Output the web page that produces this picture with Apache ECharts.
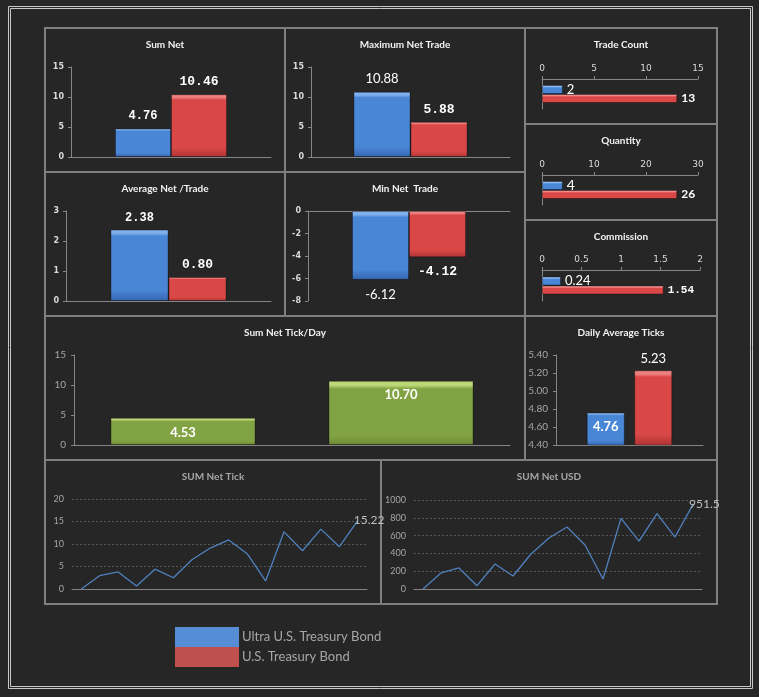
<!DOCTYPE html>
<html lang="en">
<head>
<meta charset="UTF-8">
<title>Trade Dashboard</title>
<script src="https://cdn.jsdelivr.net/npm/echarts@6/dist/echarts.min.js"></script>
<style>
  html, body { margin: 0; padding: 0; background: #262626; }
  #main { width: 759px; height: 697px; }
</style>
</head>
<body>
<div id="main"></div>
<script>
// ---- data ----
const seriesNames = ['Ultra U.S. Treasury Bond', 'U.S. Treasury Bond'];
const totalCat = ['Total'];
const sumNet = [4.76, 10.46];
const maxNetTrade = [10.88, 5.88];
const avgNetTrade = [2.38, 0.80];
const minNetTrade = [-6.12, -4.12];
const tradeCount = [2, 13];
const quantity = [4, 26];
const commission = [0.24, 1.54];
const dailyAvgTicks = [4.76, 5.23];
const tickDayCats = ['Ultra U.S. Treasury Bond', 'U.S. Treasury Bond'];
const sumNetTickDay = [4.53, 10.70];
const days = ['1', '2', '3', '4', '5', '6', '7', '8', '9', '10', '11', '12', '13', '14', '15', '16'];
const sumNetTick = [0, 2.96, 3.8, 0.67, 4.4, 2.5, 6.5, 9.1, 10.9, 7.85, 1.8, 12.7, 8.5, 13.3, 9.4, 15.22];
const sumNetUsd = [0, 180, 236, 37, 281, 146, 393, 573, 697, 494, 112, 794, 539, 846, 584, 951.5];

// ---- layout ----
const panels = [
  [45, 28, 240, 144], [285, 28, 240, 144],
  [525, 28, 192, 96], [525, 124, 192, 96], [525, 220, 192, 96],
  [45, 172, 240, 144], [285, 172, 240, 144],
  [45, 316, 480, 144], [525, 316, 192, 144],
  [45, 460, 336, 144], [381, 460, 336, 144]
];
const titles = [
  ['Sum Net', 165, 45, '#f2f2f2'], ['Maximum Net Trade', 405, 45, '#f2f2f2'],
  ['Trade Count', 621, 45, '#f2f2f2'], ['Quantity', 621, 141, '#f2f2f2'], ['Commission', 621, 237, '#f2f2f2'],
  ['Average Net /Trade', 165, 189, '#f2f2f2'], ['Min Net  Trade', 405, 189, '#f2f2f2'],
  ['Sum Net Tick/Day', 285, 333, '#f2f2f2'], ['Daily Average Ticks', 621, 333, '#f2f2f2'],
  ['SUM Net Tick', 213, 477, '#a6a6a6'], ['SUM Net USD', 549, 477, '#a6a6a6']
];
const grids = [
  { left: 71, top: 67, width: 200, height: 90 },   // 0 sum net
  { left: 311, top: 67, width: 199, height: 90 },  // 1 max net trade
  { left: 66, top: 211, width: 205, height: 90 },  // 2 avg net / trade
  { left: 308, top: 211, width: 202, height: 90 }, // 3 min net trade
  { left: 542, top: 79, width: 156, height: 30 },  // 4 trade count
  { left: 542, top: 175, width: 156, height: 30 }, // 5 quantity
  { left: 542, top: 270, width: 158, height: 31 }, // 6 commission
  { left: 74, top: 355, width: 436, height: 90 },  // 7 tick/day
  { left: 556, top: 355, width: 147, height: 90 }, // 8 daily avg ticks
  { left: 72, top: 499, width: 295, height: 90 },  // 9 sum net tick
  { left: 414, top: 500, width: 288, height: 89 }  // 10 sum net usd
];

// ---- styles ----
function grad(hi, base, low, edge) {
  return new echarts.graphic.LinearGradient(0, 0, 0, 1, [
    { offset: 0, color: hi }, { offset: edge, color: hi },
    { offset: edge * 1.8, color: base }, { offset: 0.85, color: base },
    { offset: 1, color: low }
  ]);
}
const blueFill = grad('#80b0ec', '#4a86d6', '#3565b0', 0.05);
const redFill = grad('#ee8080', '#d94747', '#ad3333', 0.05);
const greenFill = grad('#bcd878', '#82a343', '#6d8c35', 0.07);
const blueFlat = grad('#8cb9f0', '#4a86d6', '#3565b0', 0.18);
const redFlat = grad('#f28a8a', '#d94747', '#ad3333', 0.18);

const axisLineGray = { color: '#868686', width: 1 };
const tickLabel = { color: '#d9d9d9', fontSize: 8, fontWeight: 'bold', fontFamily: 'DejaVu Sans', margin: 7 };
const softLabel = { color: '#a6a6a6', fontSize: 9, fontFamily: 'Lato', margin: 8 };
const mono = (size) => ({ color: '#fff', fontFamily: 'Liberation Mono', fontWeight: 'bold', fontSize: size });
const sans = (size, bold) => ({ color: '#fff', fontFamily: 'Lato', fontWeight: bold ? 'bold' : 'normal', fontSize: size });

function catAxis(gi, data, extra) {
  return Object.assign({
    type: 'category', gridIndex: gi, data: data,
    axisLine: { show: true, lineStyle: axisLineGray },
    axisTick: { show: false }, axisLabel: { show: false }, splitLine: { show: false }
  }, extra);
}
function valAxis(gi, min, max, interval, label, extra) {
  return Object.assign({
    type: 'value', gridIndex: gi, min: min, max: max, interval: interval,
    axisLine: { show: true, lineStyle: axisLineGray },
    axisTick: { show: true, length: 3, lineStyle: axisLineGray },
    axisLabel: label, splitLine: { show: false }
  }, extra);
}
function pairBars(gi, values, barWidth, labels, fills, digits, barGap) {
  return values.map((v, i) => ({
    name: seriesNames[i], type: 'bar', xAxisIndex: gi, yAxisIndex: gi,
    data: [v], barWidth: barWidth, barGap: barGap || 0,
    itemStyle: { color: fills[i], borderColor: 'rgba(0,0,0,0.3)', borderWidth: 1 },
    label: Object.assign({ show: true, formatter: p => p.value.toFixed(digits) }, labels[i])
  }));
}

const xAxes = [], yAxes = [], series = [];

// vertical pair charts
[
  [0, sumNet, 0, 15, 5, 56, [Object.assign({ position: 'top', distance: 6 }, mono(12)), Object.assign({ position: 'top', distance: 6 }, mono(13))]],
  [1, maxNetTrade, 0, 15, 5, 57, [Object.assign({ position: 'top', distance: 6 }, sans(13)), Object.assign({ position: 'top', distance: 6 }, mono(13))]],
  [2, avgNetTrade, 0, 3, 1, 58, [Object.assign({ position: 'top', distance: 6 }, mono(12)), Object.assign({ position: 'top', distance: 6 }, mono(13))]],
  [3, minNetTrade, -8, 0, 2, 57, [Object.assign({ position: 'bottom', distance: 8 }, sans(13)), Object.assign({ position: 'bottom', distance: 8 }, mono(13))]]
].forEach(([gi, vals, mn, mx, iv, bw, labels]) => {
  xAxes.push(catAxis(gi, totalCat));
  yAxes.push(valAxis(gi, mn, mx, iv, tickLabel));
  series.push(...pairBars(gi, vals, bw, labels, [blueFill, redFill], 2));
});

// horizontal small charts
[
  [4, tradeCount, 15, 5, 0, [sans(13), sans(12, true)]],
  [5, quantity, 30, 10, 0, [sans(14), sans(12, true)]],
  [6, commission, 2, 0.5, 2, [sans(13), mono(11)]]
].forEach(([gi, vals, mx, iv, digits, fonts]) => {
  xAxes.push(valAxis(gi, 0, mx, iv, Object.assign({}, tickLabel, { fontWeight: 'normal', fontSize: 9, margin: 6 }), { position: 'top' }));
  yAxes.push(catAxis(gi, totalCat));
  series.push(...pairBars(gi, vals, 9, fonts.map(f => Object.assign({ position: 'right', distance: 4 }, f)), [blueFlat, redFlat], digits));
});

// sum net tick / day
xAxes.push(catAxis(7, tickDayCats));
yAxes.push(valAxis(7, 0, 15, 5, Object.assign({}, softLabel, { fontSize: 10 })));
series.push({
  name: 'Sum Net Tick/Day', type: 'bar', xAxisIndex: 7, yAxisIndex: 7,
  data: sumNetTickDay, barWidth: 145,
  itemStyle: { color: greenFill, borderColor: 'rgba(0,0,0,0.3)', borderWidth: 1 },
  label: Object.assign({ show: true, position: 'insideTop', distance: 8, formatter: p => p.value.toFixed(2) }, sans(13, true))
});

// daily average ticks
xAxes.push(catAxis(8, totalCat));
yAxes.push(valAxis(8, 4.4, 5.4, 0.2, Object.assign({}, softLabel, { fontSize: 10, formatter: v => v.toFixed(2) })));
series.push(...pairBars(8, dailyAvgTicks, 38, [
  Object.assign({ position: 'insideTop', distance: 8 }, sans(13, true)),
  Object.assign({ position: 'top', distance: 5 }, sans(13))
], [blueFill, redFill], 2, '25%'));

// line charts
[
  [9, sumNetTick, 20, 5, 'SUM Net Tick'],
  [10, sumNetUsd, 1000, 200, 'SUM Net USD']
].forEach(([gi, vals, mx, iv, name]) => {
  xAxes.push(catAxis(gi, days, { boundaryGap: true }));
  yAxes.push({
    type: 'value', gridIndex: gi, min: 0, max: mx, interval: iv,
    axisLine: { show: false }, axisTick: { show: false },
    axisLabel: Object.assign({ formatter: v => String(v) }, softLabel),
    splitLine: { show: true, lineStyle: { color: '#555555', type: [2, 2] } }
  });
  series.push({
    name: name, type: 'line', xAxisIndex: gi, yAxisIndex: gi,
    data: vals, symbol: 'none',
    lineStyle: { color: '#4f81bd', width: 1.3 },
    endLabel: { show: true, formatter: '{c}', distance: 0, offset: [-4, 0], color: '#bfbfbf', fontSize: 12, fontFamily: 'Lato' }
  });
});

// ---- graphics: frame, panels, titles ----
const graphics = [
  { type: 'rect', shape: { x: 8.5, y: 6.5, width: 744, height: 682 }, style: { fill: 'none', stroke: '#c8c8c8', lineWidth: 1 } },
  { type: 'rect', shape: { x: 10.5, y: 8.5, width: 740, height: 678 }, style: { fill: 'none', stroke: '#c8c8c8', lineWidth: 1 } }
];
panels.forEach(([x, y, w, h]) => {
  graphics.push({ type: 'rect', shape: { x: x, y: y, width: w, height: h }, style: { fill: 'none', stroke: '#7f7f7f', lineWidth: 2 } });
});
titles.forEach(([text, x, y, color]) => {
  graphics.push({
    type: 'text', x: x, y: y,
    style: { text: text, fill: color, font: 'bold 10px Lato', align: 'center', verticalAlign: 'middle' }
  });
});

const chart = echarts.init(document.getElementById('main'));
chart.setOption({
  backgroundColor: '#262626',
  animation: false,
  grid: grids,
  xAxis: xAxes,
  yAxis: yAxes,
  series: series,
  graphic: graphics,
  legend: {
    left: 175, top: 627, orient: 'vertical', padding: 0,
    itemWidth: 64, itemHeight: 20, itemGap: 0, icon: 'rect', selectedMode: false,
    textStyle: { color: '#a6a6a6', fontSize: 13, fontFamily: 'Lato', padding: [0, 0, 0, -2] },
    data: [
      { name: seriesNames[0], itemStyle: { color: '#558ed5', borderWidth: 0 } },
      { name: seriesNames[1], itemStyle: { color: '#c0504d', borderWidth: 0 } }
    ]
  }
});
</script>
</body>
</html>
